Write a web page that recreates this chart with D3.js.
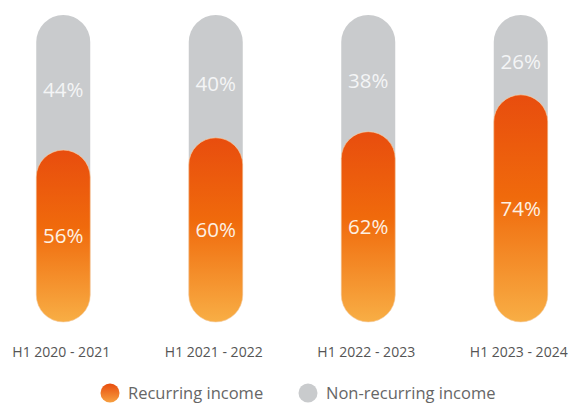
<!DOCTYPE html>
<html>
<head>
<meta charset="utf-8">
<script src="https://cdn.jsdelivr.net/npm/d3@7"></script>
<style>
  html, body { margin: 0; padding: 0; background: #fff; }
  svg { display: block; font-family: "Open Sans", sans-serif; }
</style>
</head>
<body>
<svg id="chart" width="571" height="405"></svg>
<script>
const periods = ['H1 2020 - 2021', 'H1 2021 - 2022', 'H1 2022 - 2023', 'H1 2023 - 2024'];
const recurring = [56, 60, 62, 74];
const nonRecurring = [44, 40, 38, 26];
const legendLabels = ['Recurring income', 'Non-recurring income'];

const svg = d3.select('#chart');

// Layout
const barWidth = 54;
const x = d3.scaleBand().domain(periods).range([-13, 597]).paddingInner(0).paddingOuter(0);
const y = d3.scaleLinear().domain([0, 100]).range([322, 15]);
const cx = (p) => x(p) + x.bandwidth() / 2;

const defs = svg.append('defs');
const grad = defs.append('linearGradient')
  .attr('id', 'orangeGrad')
  .attr('x1', 0).attr('y1', 0).attr('x2', 0).attr('y2', 1);
grad.append('stop').attr('offset', '0%').attr('stop-color', '#e84d0e');
grad.append('stop').attr('offset', '45%').attr('stop-color', '#f06a0c');
grad.append('stop').attr('offset', '100%').attr('stop-color', '#f8ae45');

const legendGrad = defs.append('linearGradient')
  .attr('id', 'legendGrad')
  .attr('x1', 0).attr('y1', 0).attr('x2', 0).attr('y2', 1);
legendGrad.append('stop').attr('offset', '0%').attr('stop-color', '#e84d0e');
legendGrad.append('stop').attr('offset', '100%').attr('stop-color', '#f7a040');

const data = periods.map((p, i) => ({ period: p, rec: recurring[i], non: nonRecurring[i] }));

const groups = svg.selectAll('.bar').data(data).enter().append('g').attr('class', 'bar');

// full grey track
groups.append('rect')
  .attr('x', (d) => cx(d.period) - barWidth / 2)
  .attr('y', y(100))
  .attr('width', barWidth)
  .attr('height', y(0) - y(100))
  .attr('rx', barWidth / 2)
  .attr('fill', '#c9cbcd');

// recurring part on top of it
groups.append('rect')
  .attr('x', (d) => cx(d.period) - barWidth / 2)
  .attr('y', (d) => y(d.rec))
  .attr('width', barWidth)
  .attr('height', (d) => y(0) - y(d.rec))
  .attr('rx', barWidth / 2)
  .attr('fill', 'url(#orangeGrad)')
  .attr('stroke', '#fbd3a8')
  .attr('stroke-width', 0.6);

groups.append('text')
  .attr('x', (d) => cx(d.period))
  .attr('y', (d) => (y(100) + y(d.rec)) / 2 + 7)
  .attr('dy', '0.35em')
  .attr('text-anchor', 'middle')
  .attr('fill', '#f4f5f6')
  .attr('font-size', 20.5)
  .text((d) => d.non + '%');

groups.append('text')
  .attr('x', (d) => cx(d.period))
  .attr('y', (d) => (y(0) + y(d.rec)) / 2)
  .attr('dy', '0.35em')
  .attr('text-anchor', 'middle')
  .attr('fill', '#fdf1e4')
  .attr('font-size', 20.5)
  .text((d) => d.rec + '%');

// category labels
svg.append('g').selectAll('text').data(periods).enter().append('text')
  .attr('x', (d) => cx(d) - 2)
  .attr('y', 352)
  .attr('dy', '0.35em')
  .attr('text-anchor', 'middle')
  .attr('fill', '#555')
  .attr('font-size', 14)
  .text((d) => d);

// legend
const legend = svg.append('g').attr('transform', 'translate(0,393)');
const legendItems = [
  { label: legendLabels[0], fill: 'url(#legendGrad)', x: 110 },
  { label: legendLabels[1], fill: '#c9cbcd', x: 308 },
];
const li = legend.selectAll('g').data(legendItems).enter().append('g')
  .attr('transform', (d) => `translate(${d.x},0)`);
li.append('circle').attr('r', 9.5).attr('fill', (d) => d.fill);
li.append('text')
  .attr('x', 18)
  .attr('dy', '0.35em')
  .attr('fill', '#666')
  .attr('font-size', 16.5)
  .text((d) => d.label);
</script>
</body>
</html>
